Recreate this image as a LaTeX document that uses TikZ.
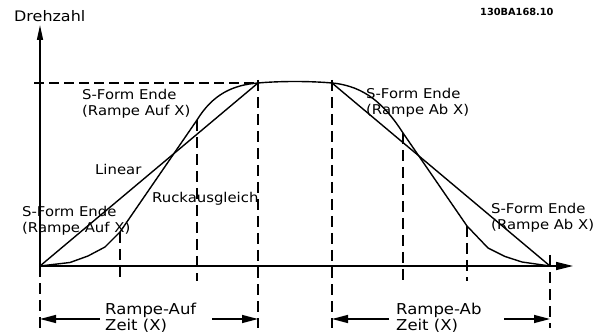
\documentclass[tikz,border=0pt]{standalone}
\usepackage{fontspec}
\setmainfont{DejaVu Sans}
\newfontfamily\lblfont[FakeStretch=1.1]{DejaVu Sans}
\usetikzlibrary{arrows.meta}
\begin{document}
\begin{tikzpicture}[x=1pt,y=-1pt,
  curve/.style={line width=1.4pt, line join=round},
  axisline/.style={line width=1.4pt},
  guide/.style={line width=1.4pt, dash pattern=on 11pt off 6pt},
  hguide/.style={line width=1.4pt, dash pattern=on 10pt off 5pt},
  dimarrow/.style={line width=1.4pt, -{Triangle[length=16pt,width=8pt]}},
  lbl/.style={font=\lblfont\fontsize{13.5}{16}\selectfont, inner sep=0pt},
  lbltwo/.style={lbl, align=left},
  dimlbl/.style={font=\lblfont\fontsize{15}{16}\selectfont, inner sep=0pt, align=left},
  codelbl/.style={font=\fontsize{9.8}{11}\selectfont\bfseries, inner sep=0pt}]
\useasboundingbox (0,0) rectangle (596,336);

% key points
\coordinate (O) at (40,266);
\coordinate (Ytop) at (40,25);
\coordinate (Xend) at (573,266);
\coordinate (Hstart) at (34,83);
\coordinate (A) at (258,83);
\coordinate (B) at (332,83);
\coordinate (E) at (550,266);
\coordinate (s1) at (120,232);
\coordinate (s2) at (197,120);
\coordinate (s3) at (403,133);
\coordinate (s4) at (467,226);
\coordinate (Ob) at (40,328);
\coordinate (s1b) at (120,281);
\coordinate (s2b) at (197,281);
\coordinate (At) at (258,80);
\coordinate (Ab) at (258,328);
\coordinate (Bt) at (332,80);
\coordinate (Bb) at (332,328);
\coordinate (s3b) at (403,281);
\coordinate (s4b) at (467,281);
\coordinate (Et) at (550,255);
\coordinate (Eb) at (550,328);
\coordinate (d1s) at (100,319);
\coordinate (d1e) at (40,319);
\coordinate (d2s) at (212,319);
\coordinate (d2e) at (258,319);
\coordinate (d3s) at (389,319);
\coordinate (d3e) at (332,319);
\coordinate (d4s) at (504,319);
\coordinate (d4e) at (550,319);

% axes
\draw[axisline, -{Triangle[length=15pt,width=6pt]}] (O) -- (Ytop);
\draw[axisline, -{Triangle[length=17pt,width=8pt]}] (O) -- (Xend);

% dashed guides
\draw[hguide] (Hstart) -- (A);
\draw[guide] (O) -- (Ob);
\draw[guide] (s1) -- (s1b);
\draw[guide] (s2) -- (s2b);
\draw[guide] (At) -- (Ab);
\draw[guide] (Bt) -- (Bb);
\draw[guide] (s3) -- (s3b);
\draw[guide] (s4) -- (s4b);
\draw[guide] (Et) -- (Eb);

% linear ramps
\draw[curve] (O) -- (A);
\draw[curve] (B) -- (E);

% S-shaped ramp
\draw[curve] (O) -- (70,262.5) -- (88,256) -- (105,247) -- (s1) -- (s2)
  .. controls (213,94) and (233,85) .. (A)
  .. controls (280,81) and (310,81) .. (B)
  .. controls (365,86) and (385,105) .. (s3)
  -- (s4) -- (488,248) -- (505,256.5) -- (522,262) -- (E);

% dimension arrows
\draw[dimarrow] (d1s) -- (d1e);
\draw[dimarrow] (d2s) -- (d2e);
\draw[dimarrow] (d3s) -- (d3e);
\draw[dimarrow] (d4s) -- (d4e);

% labels
\node[lbl, anchor=base west, font=\lblfont\fontsize{14.5}{16}\selectfont] (ylabel) at (14,22) {Drehzahl};
\node[codelbl, anchor=base west] (code) at (480,16) {130BA168.10};
\node[lbltwo, anchor=west] (sendup) at (82,103.5) {S-Form Ende\\(Rampe Auf X)};
\node[lbl, anchor=base west] (linear) at (95,175) {Linear};
\node[lbl, anchor=base west] (ruck) at (152,203) {Ruckausgleich};
\node[lbltwo, anchor=west] (sstartup) at (22,220.5) {S-Form Ende\\(Rampe Auf X)};
\node[lbltwo, anchor=west] (sstartdown) at (366,102.5) {S-Form Ende\\(Rampe Ab X)};
\node[lbltwo, anchor=west] (senddown) at (491,217.5) {S-Form Ende\\(Rampe Ab X)};
\node[dimlbl, anchor=west] (rampup) at (105,317.5) {Rampe-Auf\\Zeit (X)};
\node[dimlbl, anchor=west] (rampdown) at (396,317.5) {Rampe-Ab\\Zeit (X)};
\end{tikzpicture}
\end{document}
